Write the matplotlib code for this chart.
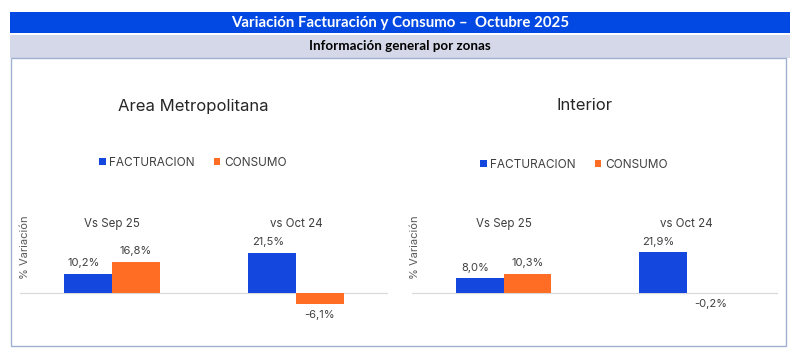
import matplotlib
matplotlib.use("Agg")
import matplotlib.pyplot as plt
import numpy as np
from matplotlib.patches import Rectangle

# data
header_title = "Variación Facturación y Consumo –  Octubre 2025"
header_sub = "Información general por zonas"
zones = ["Area Metropolitana", "Interior"]
categories = ["Vs Sep 25", "vs Oct 24"]
series_names = ["FACTURACION", "CONSUMO"]
facturacion = {"Area Metropolitana": [10.2, 21.5], "Interior": [8.0, 21.9]}
consumo = {"Area Metropolitana": [16.8, -6.1], "Interior": [10.3, -0.2]}

BLUE = "#1447DE"
ORANGE = "#FF6D24"
TEXT = "#3F3F3F"
W, H = 800, 360


def fx(px):
    return px / W


def fy(py):
    return 1 - py / H


def fmt(v):
    return f"{v:.1f}%".replace(".", ",")


plt.rcParams["font.family"] = ["Inter", "DejaVu Sans"]
fig = plt.figure(figsize=(8, 3.6), dpi=100)

# header bands and frame
fig.patches.append(Rectangle((fx(10), fy(33)), fx(780), 21 / H, transform=fig.transFigure,
                             facecolor="#0249E3", edgecolor="none"))
fig.patches.append(Rectangle((fx(10), fy(58)), fx(780), 23 / H, transform=fig.transFigure,
                             facecolor="#D4D8E8", edgecolor="none"))
fig.patches.append(Rectangle((fx(10.5), fy(346)), fx(775), 288 / H, transform=fig.transFigure,
                             facecolor="none", edgecolor="#9FB0D0", linewidth=1.0))
fig.text(0.5, fy(22.5), header_title, color="white", fontsize=10.8, fontweight="bold",
         ha="center", va="center", family=["Lato", "DejaVu Sans"])
fig.text(0.5, fy(46.5), header_sub, color="black", fontsize=9.6, fontweight="bold",
         ha="center", va="center", family=["Lato", "DejaVu Sans"])

# panel layout (pixels)
panels = {
    "Area Metropolitana": dict(x0=20, x1=388, title=(193, 106), legend=(193, 163), ylab=25),
    "Interior": dict(x0=412, x1=778, title=(585, 105), legend=(574, 165), ylab=415),
}
zero_y = 293
px_per_unit = 1.865
ymin, ymax = -20, 40

x = np.arange(len(categories))
bw = 0.26

for zone in zones:
    p = panels[zone]
    top = zero_y - ymax * px_per_unit
    bottom = zero_y - ymin * px_per_unit
    ax = fig.add_axes([fx(p["x0"]), fy(bottom), fx(p["x1"] - p["x0"]), (bottom - top) / H])
    ax.set_xlim(-0.5, 1.5)
    ax.set_ylim(ymin, ymax)
    ax.axis("off")
    ax.axhline(0, color="#D9D9D9", linewidth=0.9, zorder=1)

    b1 = ax.bar(x - bw / 2, facturacion[zone], bw, color=BLUE, label=series_names[0], zorder=2)
    b2 = ax.bar(x + bw / 2, consumo[zone], bw, color=ORANGE, label=series_names[1], zorder=2)

    for bars, vals in ((b1, facturacion[zone]), (b2, consumo[zone])):
        for rect, v in zip(bars, vals):
            cx = rect.get_x() + rect.get_width() / 2
            if v >= 0:
                ax.annotate(fmt(v), (cx, v), xytext=(-3 if bars is b1 else 0, 4),
                            textcoords="offset points", ha="center", va="bottom",
                            fontsize=8, color=TEXT)
            else:
                ax.annotate(fmt(v), (cx, v), xytext=(0, -4), textcoords="offset points",
                            ha="center", va="top", fontsize=8, color=TEXT)

    for i, c in enumerate(categories):
        ax.text(x[i], (zero_y - 224) / px_per_unit, c, ha="center", va="center",
                fontsize=8.3, color=TEXT)

    fig.text(fx(p["title"][0]), fy(p["title"][1]), zone, ha="center", va="center",
             fontsize=12, color="#262626")
    fig.text(fx(p["ylab"]), fy(247), "% Variación", rotation=90, ha="center", va="center",
             fontsize=8, color="#595959")
    fig.legend(handles=[b1, b2], loc="center", bbox_to_anchor=(fx(p["legend"][0]), fy(p["legend"][1])),
               ncol=2, frameon=False, fontsize=8.5, handlelength=0.55, handleheight=0.55,
               handletextpad=0.3, columnspacing=1.6, labelcolor=TEXT)

fig.savefig("out.png", dpi=100)
